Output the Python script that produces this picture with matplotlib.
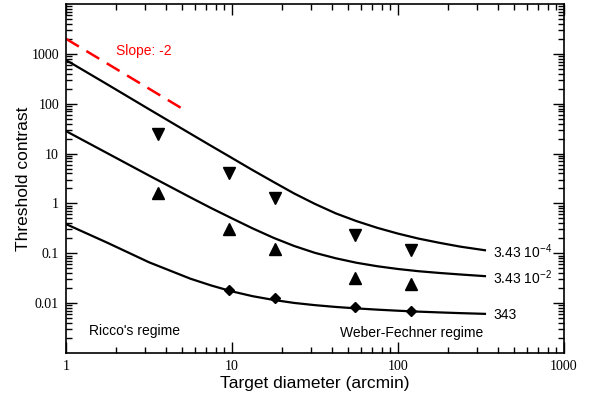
import matplotlib

matplotlib.use("Agg")
import matplotlib.pyplot as plt
from matplotlib.ticker import FixedLocator, LogLocator, NullFormatter

plt.rcParams["font.family"] = ["Liberation Sans", "DejaVu Sans"]
plt.rcParams["mathtext.fontset"] = "custom"
plt.rcParams["mathtext.rm"] = "Liberation Sans"

# fitted curves
curve_x = [1, 1.78, 3.16, 5.62, 7.5, 10, 13.3, 17.8, 23.7, 31.6, 42.2, 56.2,
           75, 100, 133, 178, 237, 334]
curve_low = [750, 242, 77.6, 25, 14.2, 8.13, 4.66, 2.69, 1.58, 0.977, 0.631,
             0.442, 0.324, 0.248, 0.197, 0.162, 0.136, 0.115]
curve_mid = [28.2, 10.1, 3.63, 1.32, 0.804, 0.501, 0.316, 0.204, 0.14, 0.102,
             0.0794, 0.0646, 0.055, 0.0484, 0.0437, 0.0403, 0.0376, 0.0348]
curve_high = [0.385, 0.162, 0.0661, 0.0309, 0.0226, 0.0172, 0.0138, 0.0116,
              0.0101, 0.00912, 0.00839, 0.00785, 0.00741, 0.00705, 0.00676,
              0.00652, 0.00631, 0.0061]
curve_labels = [r"3.43 10$^{-4}$", r"3.43 10$^{-2}$", "343"]

# measured thresholds
data_x = [3.6, 9.6, 18.2, 55, 120]
data_low = [24.2, 4.0, 1.27, 0.236, 0.115]
data_mid = [1.6, 0.31, 0.122, 0.0324, 0.0238]
data_high_x = [9.6, 18.2, 55, 120]
data_high = [0.0183, 0.0125, 0.0084, 0.0070]

# slope -2 guide
slope_x = [1, 5]
slope_y = [2000, 80]

fig = plt.figure(figsize=(6.0, 3.94), dpi=100)
ax = fig.add_axes([0.11, 0.104, 0.83, 0.886])

for ys, lab in zip([curve_low, curve_mid, curve_high], curve_labels):
    ax.plot(curve_x, ys, color="black", lw=1.6)
    ax.annotate(lab, (curve_x[-1], ys[-1]), xytext=(6, -1),
                textcoords="offset points", ha="left", va="center", fontsize=10)

ax.plot(data_x, data_low, "v", color="black", ms=8)
ax.plot(data_x, data_mid, "^", color="black", ms=8)
ax.plot(data_high_x, data_high, "D", color="black", ms=5.5)

ax.plot(slope_x, slope_y, color="red", lw=1.8, dashes=(6, 3.5))
ax.text(2.0, 1150, "Slope: -2", color="red", fontsize=10, ha="left", va="center")

ax.text(0.046, 0.062, "Ricco's regime", transform=ax.transAxes, fontsize=10,
        ha="left", va="center")
ax.text(0.837, 0.058, "Weber-Fechner regime", transform=ax.transAxes,
        fontsize=10, ha="right", va="center")

ax.set_xscale("log")
ax.set_yscale("log")
ax.set_xlim(1, 1000)
ax.set_ylim(1e-3, 1e4)

yt = [0.01, 0.1, 1, 10, 100, 1000]
ax.yaxis.set_major_locator(FixedLocator(yt))
ax.set_yticklabels(["0.01", "0.1", "1", "10", "100", "1000"])
xt = [1, 10, 100, 1000]
ax.xaxis.set_major_locator(FixedLocator(xt))
ax.set_xticklabels(["1", "10", "100", "1000"])
for a in (ax.xaxis, ax.yaxis):
    a.set_minor_locator(LogLocator(base=10, subs=range(2, 10), numticks=20))
    a.set_minor_formatter(NullFormatter())

ax.tick_params(which="both", direction="in", top=True, right=True, width=1)
ax.tick_params(which="major", length=8)
ax.tick_params(which="minor", length=4)
ax.tick_params(axis="y", pad=5)
ax.tick_params(axis="x", pad=5)
for lab in ax.get_xticklabels() + ax.get_yticklabels():
    lab.set_family("Liberation Serif")
    lab.set_fontsize(10)
for s in ax.spines.values():
    s.set_linewidth(1.2)

ax.set_xlabel("Target diameter (arcmin)", fontsize=12.5, labelpad=2)
ax.set_ylabel("Threshold contrast", fontsize=12.5, labelpad=0)

fig.savefig("out.png", dpi=100)
